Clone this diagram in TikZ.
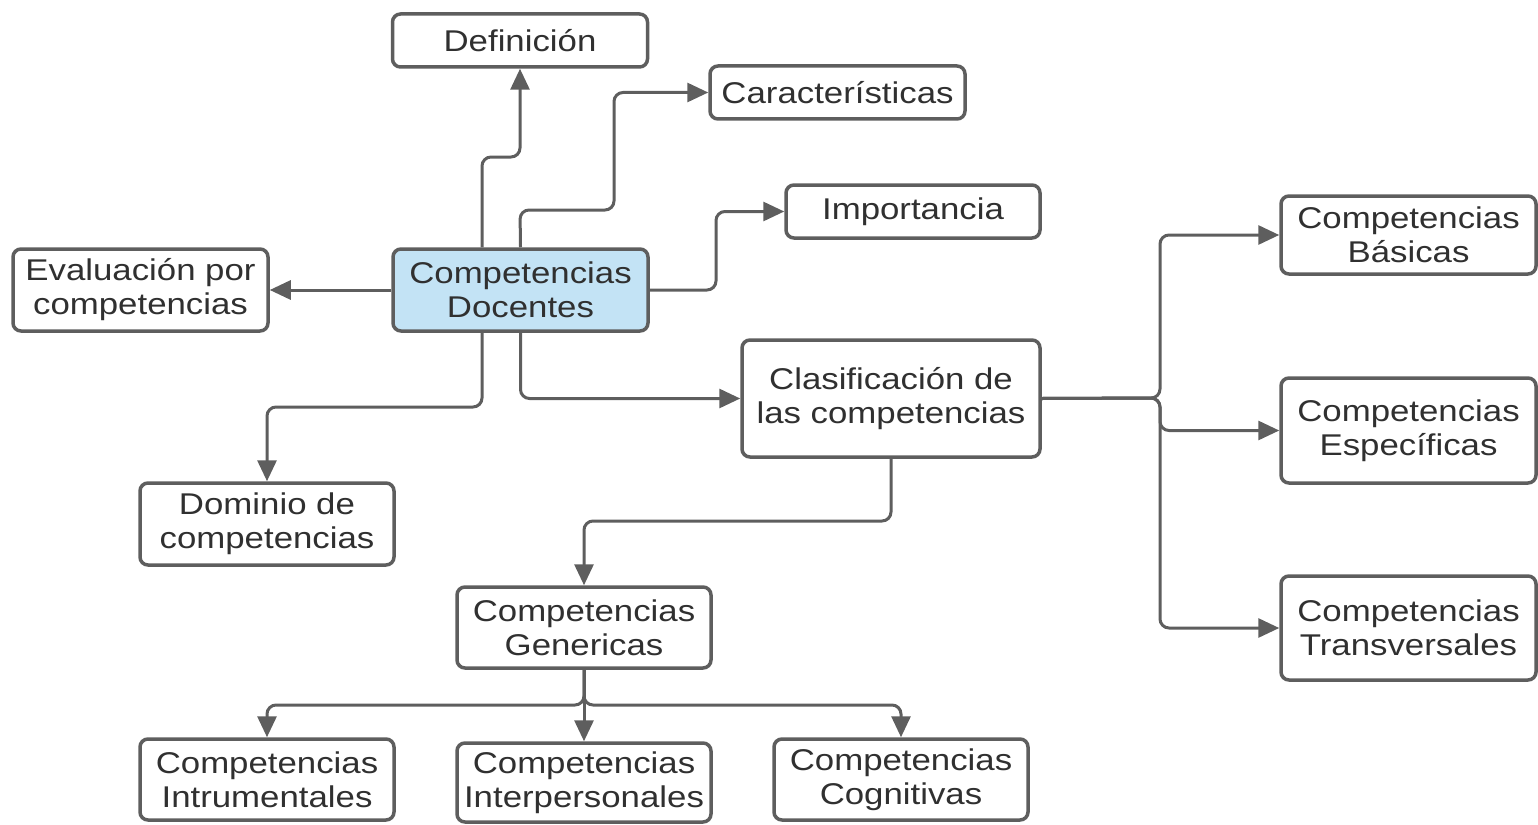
\documentclass[tikz,border=0pt]{standalone}
\usepackage{fontspec}
\setmainfont[FakeStretch=1.16]{Liberation Sans}
\usetikzlibrary{arrows.meta}
\definecolor{linegray}{HTML}{5E5E5E}
\definecolor{textgray}{HTML}{303030}
\definecolor{lightblue}{HTML}{C3E3F5}
\tikzset{
  box/.style={draw=linegray, line width=3.5pt, rounded corners=8pt, fill=white,
    align=center, inner sep=0pt, text=textgray,
    font=\fontsize{30}{34}\selectfont},
  conn/.style={draw=linegray, line width=3pt, rounded corners=9pt,
    -{Triangle[length=21pt,width=19pt]}},
  plain/.style={draw=linegray, line width=3pt, rounded corners=9pt}
}
\begin{document}
\begin{tikzpicture}[x=1pt,y=-1pt]
\useasboundingbox (0,0) rectangle (1538,824);
% nodes
\node[box, minimum width=255pt, minimum height=53pt] (def) at (520,40.5) {Definición};
\node[box, minimum width=255pt, minimum height=53pt] (car) at (837.5,92.5) {Características};
\node[box, minimum width=254pt, minimum height=53pt] (imp) at (913,211.5) {Importancia};
\node[box, minimum width=255pt, minimum height=82pt] (eva) at (140.5,290) {Evaluación por\\competencias};
\node[box, fill=lightblue, minimum width=255pt, minimum height=82pt] (doc) at (520.5,290) {Competencias\\Docentes};
\node[box, minimum width=298pt, minimum height=117pt] (cla) at (891,398.5) {Clasificación de\\las competencias};
\node[box, minimum width=254pt, minimum height=82pt] (dom) at (267,524) {Dominio de\\competencias};
\node[box, minimum width=255pt, minimum height=78pt] (bas) at (1408.5,235) {Competencias\\Básicas};
\node[box, minimum width=255pt, minimum height=105pt] (esp) at (1408.5,430.5) {Competencias\\Específicas};
\node[box, minimum width=255pt, minimum height=104pt] (tra) at (1408.5,628) {Competencias\\Transversales};
\node[box, minimum width=254pt, minimum height=81pt] (gen) at (584,627.5) {Competencias\\Genericas};
\node[box, minimum width=254pt, minimum height=81pt] (ins) at (267,779.5) {Competencias\\Intrumentales};
\node[box, minimum width=254pt, minimum height=79pt] (int) at (584,782.5) {Competencias\\Interpersonales};
\node[box, minimum width=254pt, minimum height=81pt] (cog) at (901,779.5) {Competencias\\Cognitivas};
% junction coordinates
\coordinate (jc) at (1160,398);
\coordinate (jg) at (584,705);
% connectors from Docentes
\draw[conn] (doc.north -| 482,0) -- (482,157) -- (520,157) -- (def.south);
\draw[conn] (doc.north) -- (520,210) -- (614,210) |- (car.west);
\draw[conn] (doc.east) -- (716,290) |- (imp.west);
\draw[conn] (doc.west) -- (eva.east);
\draw[conn] (doc.south -| 482,0) -- (482,407) -| (dom.north);
\draw[conn] (doc.south) |- (cla.west);
% Clasificación branches
\draw[conn] (cla.east) -- (jc) |- (bas.west);
\draw[conn] (cla.east) -- (jc) |- (esp.west);
\draw[conn] (cla.east) -- (jc) |- (tra.west);
\draw[conn] (cla.south) -- (891,521) -| (gen.north);
% Genericas branches
\draw[conn] (gen.south) -- (jg) -| (ins.north);
\draw[conn] (gen.south) -- (int.north);
\draw[conn] (gen.south) -- (jg) -| (cog.north);
\end{tikzpicture}
\end{document}
